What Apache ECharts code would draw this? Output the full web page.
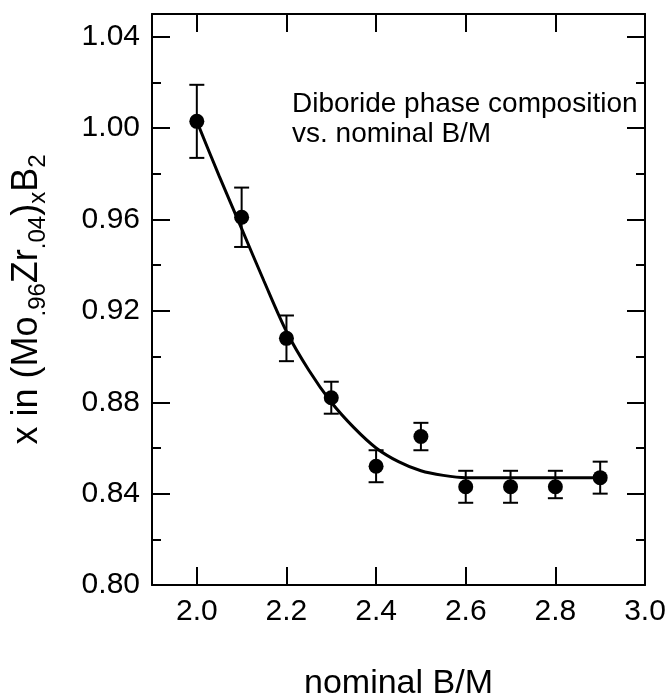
<!DOCTYPE html>
<html>
<head>
<meta charset="utf-8">
<script src="https://cdn.jsdelivr.net/npm/echarts@6/dist/echarts.min.js"></script>
<style>
html,body{margin:0;padding:0;background:#fff;}
#chart{width:671px;height:700px;}
</style>
</head>
<body>
<div id="chart"></div>
<script>
// Data
var nominalBM = [2.0, 2.1, 2.2, 2.3, 2.4, 2.5, 2.6, 2.7, 2.8, 2.9];
var xValues   = [1.003, 0.961, 0.908, 0.882, 0.852, 0.865, 0.843, 0.843, 0.843, 0.847];
var errLow    = [0.987, 0.948, 0.898, 0.875, 0.845, 0.859, 0.836, 0.836, 0.838, 0.840];
var errHigh   = [1.019, 0.974, 0.918, 0.889, 0.859, 0.871, 0.850, 0.850, 0.850, 0.854];
var fitX = [2.0, 2.05, 2.1, 2.15, 2.2, 2.25, 2.3, 2.35, 2.4, 2.45, 2.5, 2.55, 2.6, 2.7, 2.8, 2.9];
var fitY = [1.003, 0.979, 0.956, 0.933, 0.911, 0.894, 0.880, 0.869, 0.860, 0.854, 0.850, 0.848, 0.847, 0.847, 0.847, 0.847];
var xTicks = [2.0, 2.2, 2.4, 2.6, 2.8, 3.0];
var yTickStep = 0.04;
var annotationLines = ['Diboride phase composition', 'vs. nominal B/M'];

var FONT = '"Liberation Sans", Arial, Helvetica, sans-serif';
var chart = echarts.init(document.getElementById('chart'));

var pts = nominalBM.map(function (x, i) { return [x, xValues[i]]; });
var errs = nominalBM.map(function (x, i) { return [x, errLow[i], errHigh[i]]; });
var fit = fitX.map(function (x, i) { return [x, fitY[i]]; });

var axLine = { show: true, lineStyle: { color: '#000', width: 2 } };

function xAxisCfg(pos, showLabels, name) {
  return {
    type: 'value', position: pos, min: 1.9, max: 3.0,
    axisLine: axLine,
    axisTick: { show: true, inside: true, length: 18, customValues: xTicks, lineStyle: { color: '#000', width: 2 } },
    axisLabel: { show: showLabels, customValues: xTicks, margin: 12, fontSize: 30, fontFamily: FONT, color: '#000',
      formatter: function (v) { return v.toFixed(1); } },
    splitLine: { show: false },
    name: name || '', nameLocation: 'middle', nameGap: 82,
    nameTextStyle: { fontSize: 34, fontFamily: FONT, color: '#000' }
  };
}
function yAxisCfg(pos, showLabels, withName) {
  var c = {
    type: 'value', position: pos, min: 0.8, max: 1.05, interval: yTickStep,
    axisLine: axLine,
    axisTick: { show: true, inside: true, length: 18, lineStyle: { color: '#000', width: 2 } },
    minorTick: { show: true, splitNumber: 2, length: 9, lineStyle: { color: '#000', width: 2 } },
    axisLabel: { show: showLabels, margin: 12, fontSize: 30, fontFamily: FONT, color: '#000',
      showMaxLabel: false,
      formatter: function (v) { return v.toFixed(2); } },
    splitLine: { show: false }
  };
  if (withName) {
    c.name = '{m|x in (Mo}{s|.96}{m|Zr}{s|.04}{m|)}{s|x}{m|B}{s|2}';
    c.nameLocation = 'middle';
    c.nameRotate = 90;
    c.nameGap = 102;
    c.nameMoveOverlap = false;
    c.nameTextStyle = {
      fontFamily: FONT, color: '#000',
      rich: {
        m: { fontSize: 36, fontFamily: FONT, color: '#000', lineHeight: 46, verticalAlign: 'middle' },
        s: { fontSize: 24, fontFamily: FONT, color: '#000', lineHeight: 46, verticalAlign: 'bottom' }
      }
    };
  }
  return c;
}

chart.setOption({
  animation: false,
  backgroundColor: '#fff',
  grid: { left: 152, right: 26, top: 14, bottom: 115, containLabel: false, outerBoundsMode: 'none' },
  xAxis: [xAxisCfg('bottom', true, 'nominal B/M'), xAxisCfg('top', false)],
  yAxis: [yAxisCfg('left', true, true), yAxisCfg('right', false, false)],
  graphic: [
    { type: 'text', x: 292, y: 104, style: { text: annotationLines[0], font: '28px ' + FONT, fill: '#000', verticalAlign: 'middle' } },
    { type: 'text', x: 292, y: 134, style: { text: annotationLines[1], font: '28px ' + FONT, fill: '#000', verticalAlign: 'middle' } }
  ],
  series: [
    {
      type: 'line', data: fit, smooth: 0.3, symbol: 'none',
      lineStyle: { color: '#000', width: 3 }, z: 2
    },
    {
      type: 'custom', data: errs, z: 3,
      renderItem: function (params, api) {
        var x = api.value(0);
        var lo = api.coord([x, api.value(1)]);
        var hi = api.coord([x, api.value(2)]);
        var hw = 7.5;
        var st = { stroke: '#000', lineWidth: 2 };
        return {
          type: 'group',
          children: [
            { type: 'line', shape: { x1: lo[0], y1: lo[1], x2: hi[0], y2: hi[1] }, style: st },
            { type: 'line', shape: { x1: lo[0] - hw, y1: lo[1], x2: lo[0] + hw, y2: lo[1] }, style: st },
            { type: 'line', shape: { x1: hi[0] - hw, y1: hi[1], x2: hi[0] + hw, y2: hi[1] }, style: st }
          ]
        };
      }
    },
    {
      type: 'scatter', data: pts, symbol: 'circle', symbolSize: 15,
      itemStyle: { color: '#000', opacity: 1 }, z: 4
    }
  ]
});
</script>
</body>
</html>
